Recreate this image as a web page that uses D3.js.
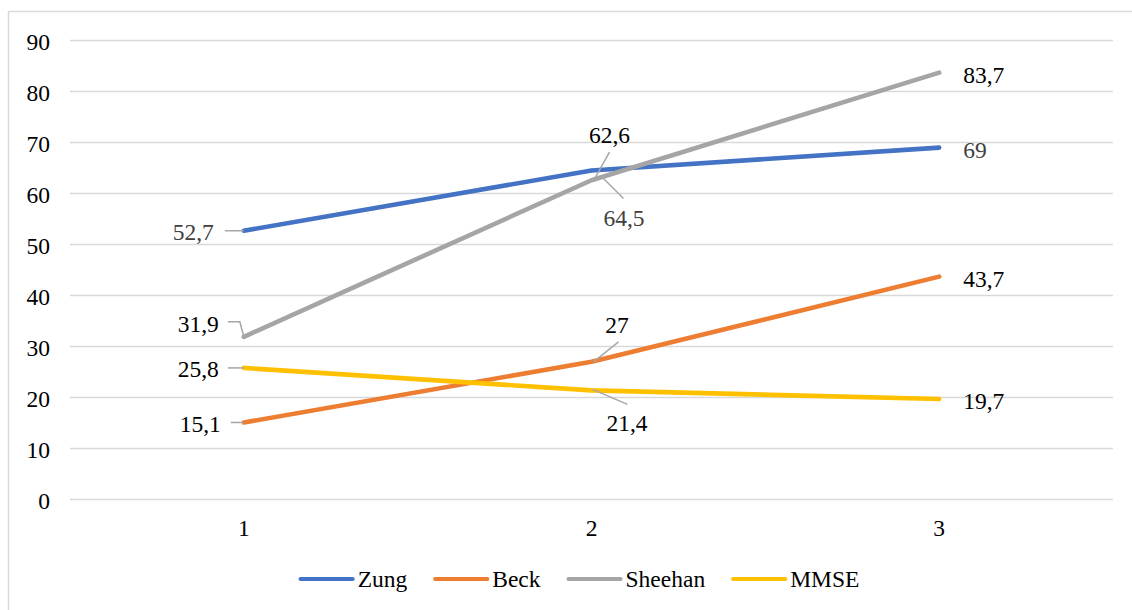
<!DOCTYPE html>
<html>
<head>
<meta charset="utf-8">
<script src="https://cdn.jsdelivr.net/npm/d3@7"></script>
<style>
  html, body { margin: 0; padding: 0; background: #fff; }
  svg { display: block; }
</style>
</head>
<body>
<svg id="chart" width="1132" height="610"></svg>
<script>
// Categories and series values
const categories = ["1", "2", "3"];
const seriesNames = ["Zung", "Beck", "Sheehan", "MMSE"];
const zung = [52.7, 64.5, 69];
const beck = [15.1, 27, 43.7];
const sheehan = [31.9, 62.6, 83.7];
const mmse = [25.8, 21.4, 19.7];
const yTicks = [0, 10, 20, 30, 40, 50, 60, 70, 80, 90];

const seriesValues = [zung, beck, sheehan, mmse];
const colors = ["#4472c4", "#ed7d31", "#a5a5a5", "#ffc000"];
const labelColors = ["#404040", "#000", "#000", "#000"];
const serifFont = "'Liberation Serif'";
const fontSize = 23.5;

// Label placement per series point: text offset from the point, anchor, leader polyline (offsets)
const labelPlacement = [
  [ {dx: -30, dy: 0, anchor: "end", leader: [[-19, 0], [0, 0]]},
    {dx: 32.5, dy: 46, anchor: "middle", leader: [[12, 8], [32, 28]]},
    {dx: 24, dy: 1, anchor: "start", leader: null} ],
  [ {dx: -23, dy: 0, anchor: "end", leader: [[-13, 0], [0, 0]]},
    {dx: 25.5, dy: -38, anchor: "middle", leader: [[27, -20], [2, 0]]},
    {dx: 24, dy: 1, anchor: "start", leader: null} ],
  [ {dx: -25, dy: -14, anchor: "end", leader: [[-16, -15], [-4, -15], [0, 0]]},
    {dx: 18, dy: -46, anchor: "middle", leader: [[18, -28], [4, -3]]},
    {dx: 24, dy: 1, anchor: "start", leader: null} ],
  [ {dx: -25, dy: 0, anchor: "end", leader: [[-16, 0], [0, 0]]},
    {dx: 35.5, dy: 31.5, anchor: "middle", leader: [[1, -1], [36, 14]]},
    {dx: 24, dy: 1, anchor: "start", leader: null} ]
];

const svg = d3.select("#chart");
const styleText = sel => sel.style("font-family", serifFont).style("font-size", fontSize + "px");

// Chart frame (left and top edges visible)
svg.append("path")
  .attr("d", "M8.5,620 V11.5 H1140")
  .attr("fill", "none")
  .attr("stroke", "#d9d9d9")
  .attr("stroke-width", 1.5);

const x = d3.scaleBand().domain(categories).range([70, 1113]);
const y = d3.scaleLinear().domain([0, 90]).range([499.5, 40.5]);
const cx = c => x(c) + x.bandwidth() / 2;

// Gridlines
svg.append("g")
  .selectAll("line")
  .data(yTicks)
  .join("line")
  .attr("x1", 70).attr("x2", 1113)
  .attr("y1", d => y(d)).attr("y2", d => y(d))
  .attr("stroke", "#d9d9d9")
  .attr("stroke-width", 1.5);

// Y axis labels
const yAxis = d3.axisLeft(y).tickValues(yTicks).tickSize(0).tickPadding(0).tickFormat(d3.format("d"));
svg.append("g")
  .attr("transform", "translate(50,0)")
  .call(yAxis)
  .call(g => g.select(".domain").remove())
  .selectAll("text")
  .call(styleText)
  .attr("fill", "#000")
  .attr("dy", "0.37em");

// X axis labels
const xAxis = d3.axisBottom(x).tickSize(0).tickPadding(0);
svg.append("g")
  .attr("transform", "translate(0,0)")
  .call(xAxis)
  .call(g => g.select(".domain").remove())
  .selectAll("text")
  .call(styleText)
  .attr("fill", "#000")
  .attr("dy", "0")
  .attr("y", 536);

// Series lines
const line = d3.line().x((d, i) => cx(categories[i])).y(d => y(d));
svg.append("g")
  .selectAll("path")
  .data(seriesValues)
  .join("path")
  .attr("d", d => line(d))
  .attr("fill", "none")
  .attr("stroke", (d, i) => colors[i])
  .attr("stroke-width", 4.6)
  .attr("stroke-linecap", "round")
  .attr("stroke-linejoin", "round");

// Data labels with leader lines
const fmt = v => String(v).replace(".", ",");
const labelG = svg.append("g");
seriesValues.forEach((vals, si) => {
  vals.forEach((v, i) => {
    const px = cx(categories[i]);
    const py = y(v);
    const p = labelPlacement[si][i];
    if (p.leader) {
      labelG.append("polyline")
        .attr("points", p.leader.map(o => [px + o[0], py + o[1]].join(",")).join(" "))
        .attr("fill", "none")
        .attr("stroke", "#a6a6a6")
        .attr("stroke-width", 1.5);
    }
    labelG.append("text")
      .call(styleText)
      .attr("x", px + p.dx)
      .attr("y", py + p.dy)
      .attr("dy", "0.39em")
      .attr("text-anchor", p.anchor)
      .attr("fill", labelColors[si])
      .text(fmt(v));
  });
});

// Legend
const legendY = 579;
const legend = svg.append("g");
const items = seriesNames.map((name, i) => {
  const t = legend.append("text")
    .call(styleText)
    .attr("fill", "#000")
    .attr("dy", "0.33em")
    .attr("y", legendY)
    .text(name);
  return {name, i, t, w: t.node().getComputedTextLength()};
});
const lineLen = 56, gapText = 3, gapItem = 26;
const total = d3.sum(items, d => lineLen + gapText + d.w) + gapItem * (items.length - 1);
let lx = 579 - total / 2;
items.forEach(d => {
  legend.append("line")
    .attr("x1", lx + 2).attr("x2", lx + lineLen - 2)
    .attr("y1", legendY).attr("y2", legendY)
    .attr("stroke", colors[d.i])
    .attr("stroke-width", 4.2)
    .attr("stroke-linecap", "round");
  d.t.attr("x", lx + lineLen + gapText);
  lx += lineLen + gapText + d.w + gapItem;
});
</script>
</body>
</html>
